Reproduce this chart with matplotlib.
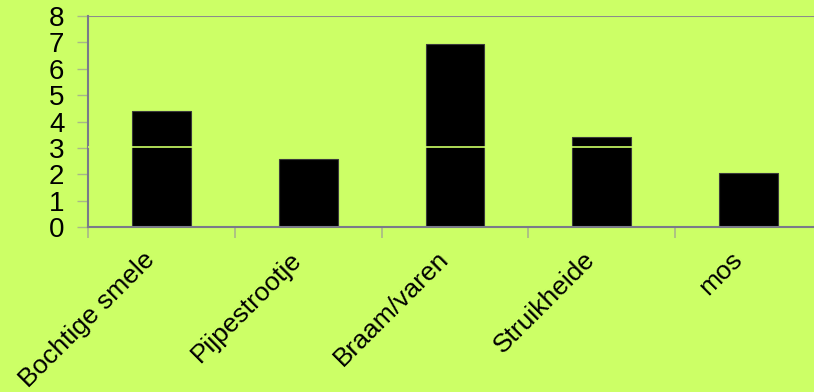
import matplotlib
matplotlib.use("Agg")
import matplotlib.pyplot as plt
from matplotlib.transforms import ScaledTranslation

categories = ["Bochtige smele", "Pijpestrootje", "Braam/varen", "Struikheide", "mos"]
values = [4.40, 2.56, 6.93, 3.43, 2.03]
yticks = [0, 1, 2, 3, 4, 5, 6, 7, 8]
grid_level = 3.05

bg = "#ccff66"
fig = plt.figure(figsize=(8.14, 3.92), dpi=100)
fig.patch.set_facecolor(bg)
ax = fig.add_axes([88/814, 165/392, 734/814, 211/392])
ax.set_facecolor(bg)

x = list(range(len(categories)))
ax.bar(x, values, width=0.40, color="black", edgecolor="#3a3a3a", linewidth=0.8, zorder=2)
ax.axhline(grid_level, color=bg, linewidth=1.2, zorder=3)
ax.axhline(8, color="#8c8c8c", linewidth=1.5, zorder=1)

ax.set_xlim(-0.5, len(categories) - 0.5)
ax.set_ylim(0, 8)
ax.set_yticks(yticks)
ax.set_yticklabels([str(t) for t in yticks], fontsize=20, family="Liberation Sans")
ax.set_xticks([i + 0.5 for i in range(-1, len(categories))], minor=True)
ax.set_xticks(x)
ax.set_xticklabels([])
off = ScaledTranslation(-19/100, -20/100, fig.dpi_scale_trans)
for xi, name in zip(x, categories):
    ax.text(xi, 0, name, transform=ax.get_xaxis_transform() + off,
            fontsize=19, family="Liberation Sans", rotation=45,
            ha="right", va="top", rotation_mode="anchor", clip_on=False)
ax.tick_params(axis="x", which="major", length=0)
ax.tick_params(axis="x", which="minor", length=8, color="#a8b888", width=1.2)
ax.tick_params(axis="y", length=8, color="#a8b888", width=1.0, pad=9)

for s in ["top", "right"]:
    ax.spines[s].set_visible(False)
ax.spines["left"].set_color("#7a7a8a")
ax.spines["left"].set_linewidth(1.5)
ax.spines["bottom"].set_color("#7a7a8a")
ax.spines["bottom"].set_linewidth(1.5)

fig.savefig("out.png", dpi=100, facecolor=bg)
